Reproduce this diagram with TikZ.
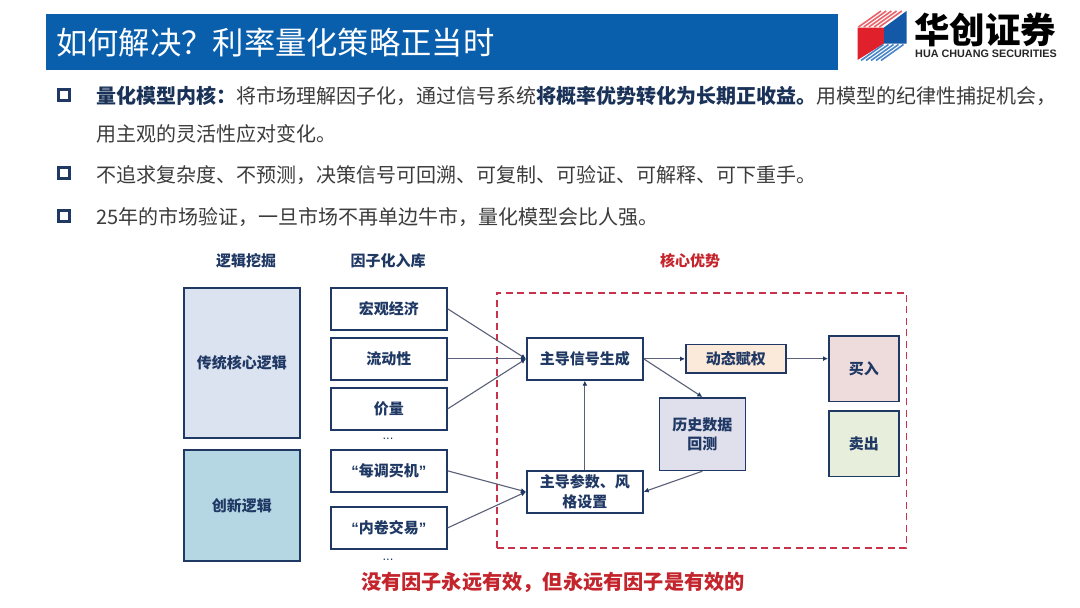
\documentclass[tikz,border=0pt]{standalone}
\usepackage{fontspec}
\setmainfont{Noto Sans CJK SC}
\newfontfamily\latinb{Liberation Sans}
\usetikzlibrary{arrows.meta}
\definecolor{navy}{HTML}{1F3864}
\definecolor{bluebar}{HTML}{0A5FAD}
\definecolor{bodytext}{HTML}{3C3C3C}
\definecolor{boldtext}{HTML}{1A3258}
\definecolor{redtext}{HTML}{C4242C}
\definecolor{dashred}{HTML}{C8324A}
\definecolor{arrowgray}{HTML}{5A6078}
\definecolor{logored}{HTML}{E0202A}
\definecolor{logoblue}{HTML}{1458A8}
\definecolor{logosalmon}{HTML}{E8646A}
\definecolor{logosky}{HTML}{4A86C8}
\newcommand{\fwcomma}{^^^^ff0c}
\newcommand{\fwcolon}{^^^^ff1a}
\newcommand{\fwquest}{^^^^ff1f}
\tikzset{
  x=1pt,y=-1pt,
  box/.style={draw=navy,line width=1.7pt,fill=white,text=navy,font=\fontsize{15}{19.5}\selectfont\bfseries,align=center,inner sep=0pt,anchor=north west},
  lbl/.style={text=navy,font=\fontsize{15}{19.5}\selectfont\bfseries,inner sep=0pt},
  bodyline/.style={anchor=west,inner sep=0pt,text=bodytext,font=\fontsize{20}{24}\selectfont},
  bul/.style={draw=navy,line width=3pt,fill=white,minimum size=11pt,inner sep=0pt},
  arr/.style={draw=arrowgray,line width=1.1pt,-{Latex[length=5pt,width=5pt,color=navy]}},
}
\newcommand{\boxat}[6][]{\node[box,minimum width=#4pt,minimum height=#5pt,#1] (#2) at #3 {#6};}
\begin{document}
\begin{tikzpicture}
\useasboundingbox (0,0) rectangle (1080,608);
\fill[white] (0,0) rectangle (1080,608);
% title
\node[fill=bluebar,minimum width=792pt,minimum height=56pt,inner sep=0pt,anchor=north west] (bar) at (46,14) {};
\node[anchor=west,inner sep=0pt,text=white,font=\fontsize{31.3}{36}\selectfont] (title) at (56,43) {如何解决\fwquest{}利率量化策略正当时};
% logo
\fill[logored] (857.5,27.5) -- (884,27.5) -- (884,43.5) -- (857.5,60) -- cycle;
\fill[logoblue] (884,27.5) -- (906.5,11) -- (906.5,43.5) -- (884,43.5) -- cycle;
\foreach \i in {0,1,2,3,4} {
 \draw[logosalmon,line width=1.6pt] (858.5+\i*5.2,27) -- (881+\i*5.2,11);
 \draw[logosky,line width=1.6pt] (861+\i*5,60.5) -- (883.5+\i*5,44.5);
}
\node[anchor=west,inner sep=0pt,text=black,font=\fontsize{35.5}{38}\selectfont\bfseries] (logocn) at (914,30) {华创证券};
\node[anchor=west,inner sep=0pt,text=black!85,font=\latinb\fontsize{10.8}{12}\selectfont\bfseries] (logoen) at (915,53.5) {HUA CHUANG SECURITIES};
% bullets
\node[bul] (b1) at (64,95) {};
\node[bul] (b2) at (64,173) {};
\node[bul] (b3) at (64,215.5) {};
\node[bodyline] (l1) at (96,96) {{\bfseries\color{boldtext}量化模型内核\fwcolon{}}将市场理解因子化\fwcomma{}通过信号系统{\bfseries\color{boldtext}将概率优势转化为长期正收益。}用模型的纪律性捕捉机会\fwcomma{}};
\node[bodyline] (l2) at (96,134) {用主观的灵活性应对变化。};
\node[bodyline] (l3) at (96,175) {不追求复杂度、不预测\fwcomma{}决策信号可回溯、可复制、可验证、可解释、可下重手。};
\node[bodyline] (l4) at (96,217) {25年的市场验证\fwcomma{}一旦市场不再单边牛市\fwcomma{}量化模型会比人强。};
% headers
\node[lbl] (h1) at (246,261) {逻辑挖掘};
\node[lbl] (h2) at (388,261) {因子化入库};
\node[lbl,text=redtext] (h3) at (690,261) {核心优势};
% left blocks
\boxat[fill={rgb,255:red,220;green,227;blue,240}]{trad}{(183,287)}{116}{150}{传统核心逻辑}
\boxat[fill={rgb,255:red,181;green,214;blue,227}]{inno}{(183,449)}{116}{111}{创新逻辑}
% factors
\boxat{f1}{(330,287)}{116}{42}{宏观经济}
\boxat{f2}{(330,337)}{116}{42}{流动性}
\boxat{f3}{(330,387)}{116}{42}{价量}
\boxat{f4}{(330,449)}{116}{42}{{\latinb“}每调买机{\latinb”}}
\boxat{f5}{(330,506)}{116}{42}{{\latinb“}内卷交易{\latinb”}}
\node[lbl,font=\latinb\fontsize{13}{14}\selectfont] (d1) at (388,439) {...};
\node[lbl,font=\latinb\fontsize{13}{14}\selectfont] (d2) at (388,560) {...};
% core
\node[draw=dashred,line width=1.7pt,dash pattern=on 7pt off 4.5pt,minimum width=409.5pt,minimum height=255pt,inner sep=0pt,anchor=north west] (core) at (496,292) {};
\boxat{sig}{(526,337)}{116}{42}{主导信号生成}
\boxat{par}{(526,470)}{116}{42}{主导参数、风\\格设置}
\boxat[fill={rgb,255:red,251;green,233;blue,217}]{dyn}{(685,343.5)}{100}{28.5}{动态赋权}
\boxat[fill={rgb,255:red,224;green,224;blue,236}]{his}{(658.5,397)}{86}{72.5}{历史数据\\回测}
\boxat[fill={rgb,255:red,238;green,220;blue,220}]{buy}{(828,335)}{70}{65.5}{买入}
\boxat[fill={rgb,255:red,232;green,238;blue,220}]{sel}{(828,410)}{70}{65.5}{卖出}
% arrows
\draw[arr] (f1.east) -- (sig.west);
\draw[arr] (f2.east) -- (sig.west);
\draw[arr] (f3.east) -- (sig.west);
\draw[arr] (f4.east) -- (par.west);
\draw[arr] (f5.east) -- (par.west);
\draw[arr] (sig.east) -- (dyn.west |- sig.east);
\draw[arr] (dyn.east) -- (buy.west |- dyn.east);
\draw[arr] (sig.east) -- (his.north);
\draw[arr] (his.south) -- (par.east);
\draw[arr] (par.north) -- (sig.south);
% footer
\node[inner sep=0pt,text=redtext,font=\fontsize{20.2}{24}\selectfont\bfseries] (foot) at (553,582.5) {没有因子永远有效\fwcomma{}但永远有因子是有效的};
\end{tikzpicture}
\end{document}
